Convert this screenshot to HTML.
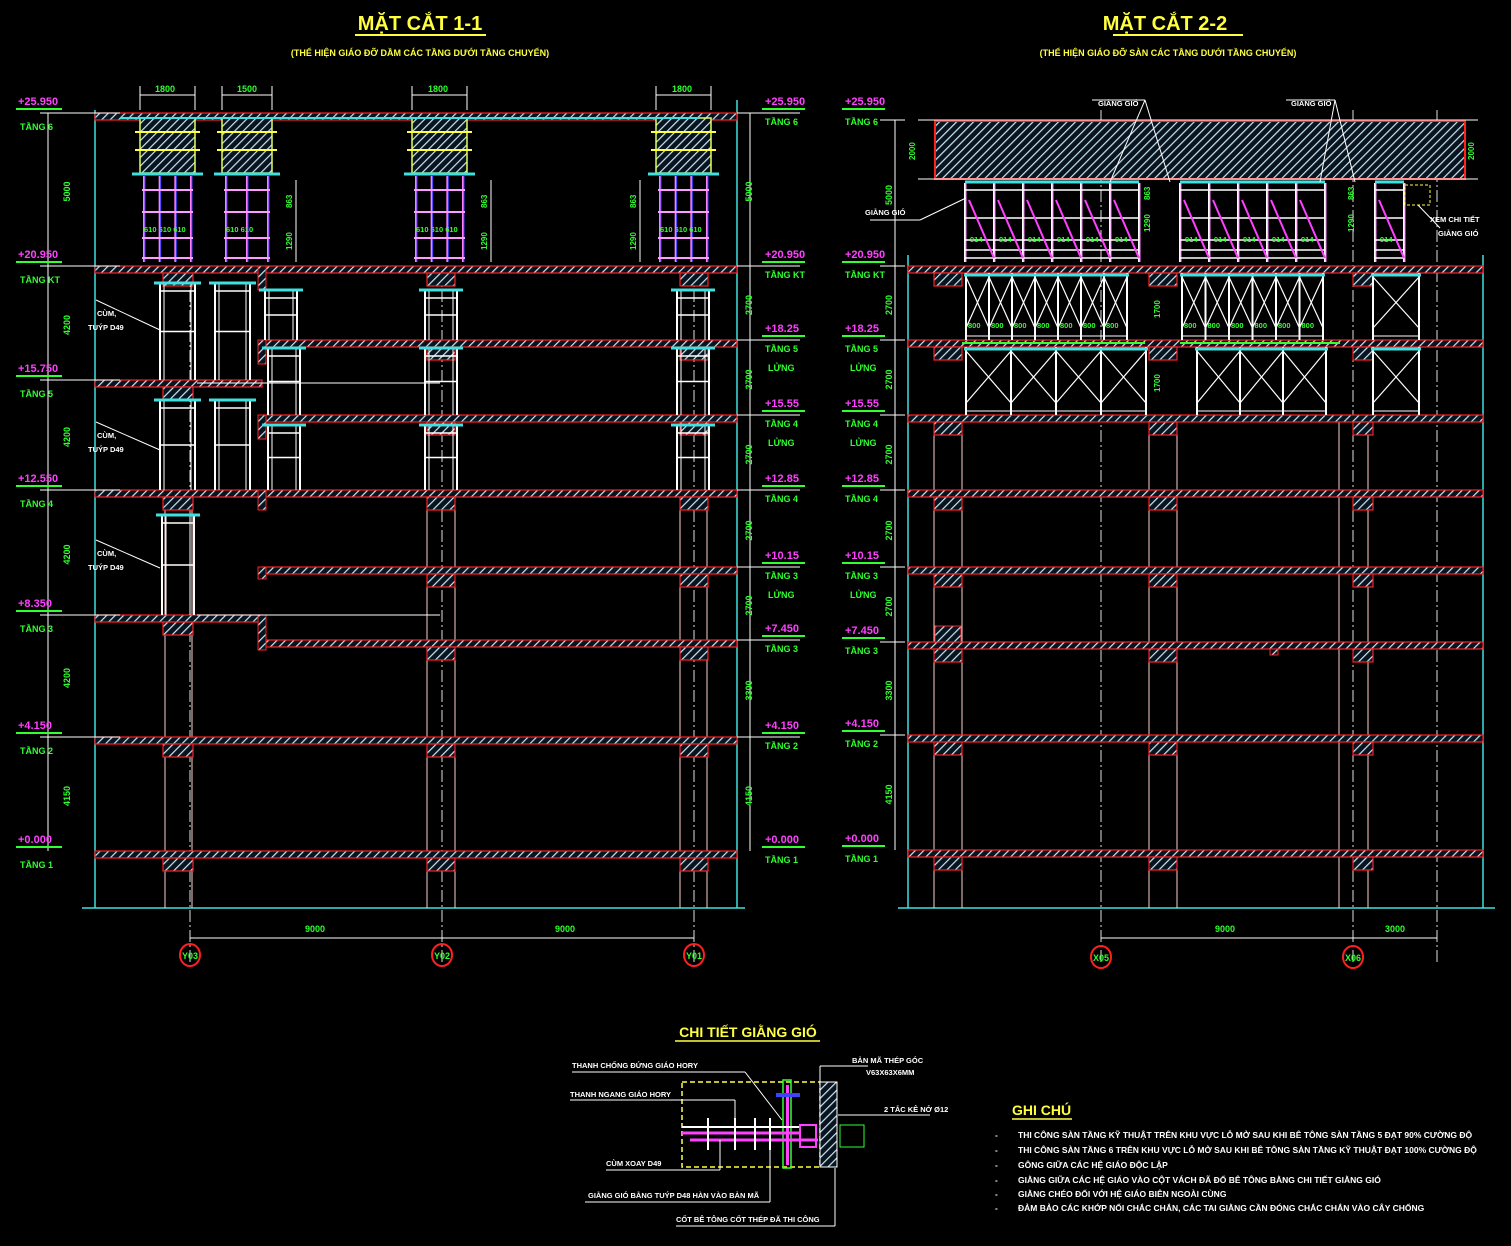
<!DOCTYPE html>
<html><head><meta charset="utf-8">
<style>
html,body{margin:0;padding:0;background:#000;}
svg{display:block}
text{font-family:"Liberation Sans","DejaVu Sans",sans-serif;}
</style></head>
<body>
<svg id="s" width="1511" height="1246" viewBox="0 0 1511 1246" xmlns="http://www.w3.org/2000/svg">
<defs>
<pattern id="h" width="6" height="6" patternUnits="userSpaceOnUse" patternTransform="rotate(45)">
<rect width="6" height="6" fill="#0a1420"/>
<line x1="0" y1="0" x2="0" y2="6" stroke="#c8e8f0" stroke-width="2.4"/>
</pattern>
</defs>
<rect width="1511" height="1246" fill="#000"/>
<g id="geo"></g>
<g id="txt" font-weight="bold">
<text x="420" y="30" fill="#ffff40" font-size="20" text-anchor="middle">MẶT CẮT 1-1</text>
<line x1="355" y1="35" x2="486" y2="35" stroke="#ffff40" stroke-width="2"/>
<text x="420" y="56" fill="#ffff40" font-size="9" text-anchor="middle">(THỂ HIỆN GIÁO ĐỠ DẦM CÁC TẦNG DƯỚI TẦNG CHUYỂN)</text>
<text x="1165" y="30" fill="#ffff40" font-size="20" text-anchor="middle">MẶT CẮT 2-2</text>
<line x1="1113" y1="35" x2="1243" y2="35" stroke="#ffff40" stroke-width="2"/>
<text x="1168" y="56" fill="#ffff40" font-size="9" text-anchor="middle">(THỂ HIỆN GIÁO ĐỠ SÀN CÁC TẦNG DƯỚI TẦNG CHUYỂN)</text>

<text x="748" y="1037" fill="#ffff40" font-size="14" text-anchor="middle">CHI TIẾT GIẰNG GIÓ</text>
<line x1="675" y1="1041" x2="820" y2="1041" stroke="#ffff40" stroke-width="1.5"/>
<text x="1012" y="1115" fill="#ffff40" font-size="14">GHI CHÚ</text>
<line x1="1012" y1="1119" x2="1072" y2="1119" stroke="#ffff40" stroke-width="1.5"/>
<g fill="#fff" font-size="8.5">
<text x="995" y="1138">-</text><text x="1018" y="1138">THI CÔNG SÀN TẦNG KỸ THUẬT TRÊN KHU VỰC LỖ MỞ SAU KHI BÊ TÔNG SÀN TẦNG 5 ĐẠT 90% CƯỜNG ĐỘ</text>
<text x="995" y="1153">-</text><text x="1018" y="1153">THI CÔNG SÀN TẦNG 6 TRÊN KHU VỰC LỖ MỞ SAU KHI BÊ TÔNG SÀN TẦNG KỸ THUẬT ĐẠT 100% CƯỜNG ĐỘ</text>
<text x="995" y="1168">-</text><text x="1018" y="1168">GÔNG GIỮA CÁC HỆ GIÁO ĐỘC LẬP</text>
<text x="995" y="1183">-</text><text x="1018" y="1183">GIẰNG GIỮA CÁC HỆ GIÁO VÀO CỘT VÁCH ĐÃ ĐỔ BÊ TÔNG BẰNG CHI TIẾT GIẰNG GIÓ</text>
<text x="995" y="1197">-</text><text x="1018" y="1197">GIẰNG CHÉO ĐỐI VỚI HỆ GIÁO BIÊN NGOÀI CÙNG</text>
<text x="995" y="1211">-</text><text x="1018" y="1211">ĐẢM BẢO CÁC KHỚP NỐI CHẮC CHẮN, CÁC TAI GIẰNG CẦN ĐÓNG CHẮC CHẮN VÀO CÂY CHỐNG</text>
</g>
<g fill="#fff" font-size="7.5">
<text x="572" y="1068">THANH CHỐNG ĐỨNG GIÁO HORY</text>
<text x="570" y="1097">THANH NGANG GIÁO HORY</text>
<text x="606" y="1166">CÙM XOAY D49</text>
<text x="588" y="1198">GIẰNG GIÓ BẰNG TUÝP D48 HÀN VÀO BẢN MÃ</text>
<text x="676" y="1222">CỐT BÊ TÔNG CỐT THÉP ĐÃ THI CÔNG</text>
<text x="852" y="1063">BẢN MÃ THÉP GÓC</text>
<text x="866" y="1075">V63X63X6MM</text>
<text x="884" y="1112">2 TẮC KÊ NỞ Ø12</text>
<text x="1430" y="222">XEM CHI TIẾT</text>
<text x="1438" y="236">GIẰNG GIÓ</text>
<text x="1098" y="106">GIẰNG GIÓ</text>
<text x="1291" y="106">GIẰNG GIÓ</text>
<text x="865" y="215">GIẰNG GIÓ</text>
<text x="97" y="316">CÙM,</text><text x="88" y="330">TUÝP D49</text>
<text x="97" y="438">CÙM,</text><text x="88" y="452">TUÝP D49</text>
<text x="97" y="556">CÙM,</text><text x="88" y="570">TUÝP D49</text>
</g>
<g fill="#30ff30" font-size="9">
<text x="155" y="92">1800</text><text x="237" y="92">1500</text><text x="428" y="92">1800</text><text x="672" y="92">1800</text>
<text x="305" y="932">9000</text><text x="555" y="932">9000</text>
<text x="1215" y="932">9000</text><text x="1385" y="932">3000</text>
</g>
</g>
</svg>
<script>
(function(){
var NS="http://www.w3.org/2000/svg";
var G=document.getElementById('geo'),T=document.getElementById('txt');
function el(n,a,p){var e=document.createElementNS(NS,n);for(var k in a)e.setAttribute(k,a[k]);(p||G).appendChild(e);return e;}
function L(x1,y1,x2,y2,c,w,d){var a={x1:x1,y1:y1,x2:x2,y2:y2,stroke:c,'stroke-width':w||1};if(d)a['stroke-dasharray']=d;return el('line',a);}
function R(x,y,w,h,f,s,sw){return el('rect',{x:x,y:y,width:w,height:h,fill:f||'none',stroke:s||'none','stroke-width':sw||1});}
function tx(x,y,s,c,fs,rot,anchor){var a={x:x,y:y,fill:c,'font-size':fs||9};if(rot)a.transform='rotate(-90 '+x+' '+y+')';if(anchor)a['text-anchor']=anchor;var e=el('text',a,T);e.textContent=s;return e;}
function slab(x1,x2,y,beams){R(x1,y,x2-x1,7,'url(#h)','#ff2020',1.2);beams.forEach(function(b){R(b[0],y+7,b[1],b[2]||13,'url(#h)','#ff2020',1.2);});}

var LX=95,RX=737;
L(LX,110,LX,908,'#40e0e0',1.5);L(RX,100,RX,908,'#40e0e0',1.5);
L(82,908,745,908,'#40e0e0',1.5);
[165,192,427,455,680,707].forEach(function(x){L(x,505,x,908,'#ffd0d0',1);});
[190,442,694].forEach(function(x){L(x,270,x,970,'#e0e0e0',1,'12,3,2,3');});
slab(LX,RX,113,[]);
slab(LX,RX,266,[[163,30],[427,28],[680,28]]);
slab(262,RX,340,[[427,28],[680,28]]);
slab(LX,262,380,[[163,30]]);
slab(262,RX,415,[[427,28],[680,28]]);
slab(LX,RX,490,[[163,30],[427,28],[680,28]]);
slab(262,RX,567,[[427,28],[680,28]]);
slab(LX,262,615,[[163,30]]);
slab(262,RX,640,[[427,28],[680,28]]);
slab(LX,RX,737,[[163,30],[427,28],[680,28]]);
slab(LX,RX,851,[[163,30],[427,28],[680,28]]);
R(258,266,8,24,'url(#h)','#ff2020');R(258,340,8,24,'url(#h)','#ff2020');R(258,415,8,24,'url(#h)','#ff2020');R(258,490,8,20,'url(#h)','#ff2020');R(258,567,8,12,'url(#h)','#ff2020');R(258,615,8,35,'url(#h)','#ff2020');
[[140,55],[222,50],[412,55],[656,55]].forEach(function(b){
 R(b[0],118,b[1],55,'url(#h)','#e0ff60',1.5);
 L(b[0]-5,132,b[0]+b[1]+5,132,'#ffff40',2);L(b[0]-5,150,b[0]+b[1]+5,150,'#ffff40',2);
 L(b[0]-8,174,b[0]+b[1]+8,174,'#40e0e0',3);
 var n=b[1]>52?4:3;
 for(var i=0;i<n;i++){var x=b[0]+4+i*(b[1]-8)/(n-1);L(x,176,x,262,'#ff80ff',2);L(x+1,176,x+1,262,'#4040ff',1);}
 [190,212,238,258].forEach(function(y){L(b[0]+2,y,b[0]+b[1]-2,y,'#ff9dff',2);});
 L(b[0],86,b[0],110,'#fff',1);L(b[0]+b[1],86,b[0]+b[1],110,'#fff',1);L(b[0],95,b[0]+b[1],95,'#fff',1);
 tx(b[0]+4,232,b[1]>52?'610 610 610':'610 610','#30ff30',7.5);
});
L(120,118,700,118,'#40e0e0',2);
[[292,200,232],[487,200,232],[636,200,232]].forEach(function(d){tx(d[0],d[1]+8,'863','#30ff30',8,1);tx(d[0],d[2]+18,'1290','#30ff30',8,1);L(d[0]+4,180,d[0]+4,262,'#fff',1);});
function frame(x,w,y1,y2){L(x,y1,x,y2,'#fff',2);L(x+w,y1,x+w,y2,'#fff',2);L(x+4,y1,x+4,y2,'#fff',1);L(x+w-4,y1,x+w-4,y2,'#fff',1);
 L(x,y1+8,x+w,y1+8,'#fff',1.5);var m=(y1+y2)/2;L(x,m,x+w,m,'#fff',1.5);L(x-6,y1,x+w+6,y1,'#40e0e0',3);}
[[160,35,283,380],[215,35,283,380],[265,32,290,340],[425,32,290,340],[677,32,290,340],
 [160,35,400,490],[215,35,400,490],[268,32,348,415],[425,32,348,415],[677,32,348,415],
 [268,32,425,490],[425,32,425,490],[677,32,425,490],[162,32,515,615]].forEach(function(f){frame(f[0],f[1],f[2],f[3]);});
L(96,300,160,330,'#fff',1);L(96,422,160,450,'#fff',1);L(96,540,160,568,'#fff',1);
L(197,383,440,383,'#fff',1);L(197,615,440,615,'#fff',1);
L(48,113,48,851,'#fff',1);
[[113,266,'5000'],[266,380,'4200'],[380,490,'4200'],[490,615,'4200'],[615,737,'4200'],[737,851,'4150']].forEach(function(d){L(40,d[0],120,d[0],'#fff',1);tx(70,(d[0]+d[1])/2+12,d[2],'#30ff30',9,1);});
[[113,'+25.950','TẦNG 6'],[266,'+20.950','TẦNG KT'],[380,'+15.750','TẦNG 5'],[490,'+12.550','TẦNG 4'],[615,'+8.350','TẦNG 3'],[737,'+4.150','TẦNG 2'],[851,'+0.000','TẦNG 1']].forEach(function(e){
 tx(18,e[0]-8,e[1],'#ff40ff',11);L(16,e[0]-4,62,e[0]-4,'#30ff30',2);tx(20,e[0]+17,e[2],'#30ff30',9);});
L(750,113,750,851,'#fff',1);
[[113,266,'5000'],[266,340,'2700'],[340,415,'2700'],[415,490,'2700'],[490,567,'2700'],[567,640,'2700'],[640,737,'3300'],[737,851,'4150']].forEach(function(d){L(737,d[0],800,d[0],'#fff',1);tx(752,(d[0]+d[1])/2+12,d[2],'#30ff30',9,1);});
[[113,'+25.950','TẦNG 6'],[266,'+20.950','TẦNG KT'],[340,'+18.25','TẦNG 5'],[415,'+15.55','TẦNG 4'],[490,'+12.85','TẦNG 4'],[567,'+10.15','TẦNG 3'],[640,'+7.450','TẦNG 3'],[737,'+4.150','TẦNG 2'],[851,'+0.000','TẦNG 1']].forEach(function(e){
 tx(765,e[0]-8,e[1],'#ff40ff',11);L(762,e[0]-4,805,e[0]-4,'#30ff30',2);tx(765,e[0]+12,e[2],'#30ff30',9);});
[[355],[430],[582]].forEach(function(e){tx(768,e[0]+16,'LỬNG','#30ff30',9);});
L(190,938,694,938,'#fff',1);
[[190,'Y03'],[442,'Y02'],[694,'Y01']].forEach(function(a){el('ellipse',{cx:a[0],cy:955,rx:10,ry:11,fill:'none',stroke:'#ff2020','stroke-width':2});tx(a[0],959,a[1],'#30ff30',9,0,'middle');});

var AX=908,BX=1483;
L(AX,255,AX,908,'#40e0e0',1.5);L(BX,255,BX,908,'#40e0e0',1.5);L(898,908,1495,908,'#40e0e0',1.5);
[934,962,1149,1177,1339,1368].forEach(function(x){L(x,420,x,908,'#ffd0d0',1);});
[1101,1353,1437].forEach(function(x){L(x,110,x,965,'#e0e0e0',1,'12,3,2,3');});
R(935,121,530,58,'url(#h)','#ff2020',2);
L(918,120,1478,120,'#fff',1);L(918,179,1478,179,'#fff',1);
var b2=[[934,28],[1149,28],[1353,20]];
[266,340,415,490,567,642,735,850].forEach(function(y){slab(AX,BX,y,b2);});
R(935,626,26,16,'url(#h)','#ff2020');R(1270,649,8,6,'url(#h)','#ff2020');
function topsc(x0,n){var w=29;for(var i=0;i<=n;i++){var x=x0+i*w;L(x,183,x,262,'#ffffff',2);L(x+1,183,x+1,262,'#ff80ff',1);}
 [190,218,240,250,258].forEach(function(y){L(x0,y,x0+n*w,y,'#fff',1.5);});
 for(var i=0;i<n;i++){L(x0+i*w+4,200,x0+i*w+w,258,'#ff40ff',2);tx(x0+i*w+5,242,'914','#30ff30',7.5);}
 L(x0,182,x0+n*w,182,'#40e0e0',3);}
topsc(965,6);topsc(1180,5);topsc(1375,1);
R(1405,185,25,20,'none','#ffff40',1).setAttribute('stroke-dasharray','3,2');
function xb(x0,n,w,y1,y2){for(var i=0;i<=n;i++)L(x0+i*w,y1,x0+i*w,y2,'#fff',2);for(var i=0;i<n;i++){L(x0+i*w,y1+4,x0+i*w+w,y2-12,'#fff',1.2);L(x0+i*w+w,y1+4,x0+i*w,y2-12,'#fff',1.2);}
 L(x0-2,y1+2,x0+n*w+2,y1+2,'#40e0e0',3);L(x0,y2-4,x0+n*w,y2-4,'#fff',1);}
xb(966,7,23,273,340);xb(1182,6,23.5,273,340);xb(1373,1,46,273,340);
for(var i=0;i<7;i++)tx(968+i*23,328,'800','#30ff30',7.5);for(var i=0;i<6;i++)tx(1184+i*23.5,328,'800','#30ff30',7.5);
xb(966,4,45,347,415);xb(1197,3,43,347,415);xb(1373,1,46,347,415);
L(962,343,1145,343,'#30ff30',2);L(1180,343,1340,343,'#30ff30',2);
tx(1150,232,'1290','#30ff30',8,1);tx(1150,200,'863','#30ff30',8,1);tx(1354,232,'1290','#30ff30',8,1);tx(1354,200,'863','#30ff30',8,1);
tx(1160,318,'1700','#30ff30',8,1);tx(1160,392,'1700','#30ff30',8,1);
tx(915,160,'2000','#30ff30',8,1);tx(1474,160,'2000','#30ff30',8,1);
L(1092,100,1145,100,'#fff',1);L(1145,100,1170,182,'#fff',1);L(1145,100,1110,182,'#fff',1);
L(1286,100,1335,100,'#fff',1);L(1335,100,1355,182,'#fff',1);L(1335,100,1320,182,'#fff',1);
L(870,220,920,220,'#fff',1);L(920,220,966,198,'#fff',1);L(1418,205,1440,228,'#fff',1);
L(895,120,895,850,'#fff',1);
[[120,266,'5000'],[266,340,'2700'],[340,415,'2700'],[415,490,'2700'],[490,567,'2700'],[567,642,'2700'],[642,735,'3300'],[735,850,'4150']].forEach(function(d){L(880,d[0],905,d[0],'#fff',1);tx(892,(d[0]+d[1])/2+12,d[2],'#30ff30',9,1);});
[[113,'+25.950','TẦNG 6'],[266,'+20.950','TẦNG KT'],[340,'+18.25','TẦNG 5'],[415,'+15.55','TẦNG 4'],[490,'+12.85','TẦNG 4'],[567,'+10.15','TẦNG 3'],[642,'+7.450','TẦNG 3'],[735,'+4.150','TẦNG 2'],[850,'+0.000','TẦNG 1']].forEach(function(e){
 tx(845,e[0]-8,e[1],'#ff40ff',11);L(842,e[0]-4,885,e[0]-4,'#30ff30',2);tx(845,e[0]+12,e[2],'#30ff30',9);});
[[355],[430],[582]].forEach(function(e){tx(850,e[0]+16,'LỬNG','#30ff30',9);});
L(1101,938,1437,938,'#fff',1);
[[1101,'X05'],[1353,'X06']].forEach(function(a){el('ellipse',{cx:a[0],cy:957,rx:10,ry:11,fill:'none',stroke:'#ff2020','stroke-width':2});tx(a[0],961,a[1],'#30ff30',9,0,'middle');});

var d=R(682,1082,138,85,'none','#ffff40',1.5);d.setAttribute('stroke-dasharray','5,3');
R(820,1082,17,85,'url(#h)','#fff',1);
R(783,1080,8,88,'none','#30ff30',1.5);R(786,1085,3,80,'#ff40ff');
R(776,1093,24,4,'#4040ff');
L(682,1127,800,1127,'#fff',2);L(682,1133,800,1133,'#ff40ff',3);L(690,1140,818,1140,'#ff40ff',3);
R(800,1125,16,22,'none','#ff40ff',2);R(840,1125,24,22,'none','#30ff30',1);
[708,735,755,770].forEach(function(x){L(x,1118,x,1150,'#fff',2);});
L(572,1072,745,1072,'#fff',1);L(745,1072,782,1120,'#fff',1);
L(570,1100,735,1100,'#fff',1);L(735,1100,735,1125,'#fff',1);
L(606,1170,720,1170,'#fff',1);L(720,1170,720,1140,'#fff',1);
L(585,1202,770,1202,'#fff',1);L(770,1202,770,1140,'#fff',1);
L(676,1226,835,1226,'#fff',1);L(835,1226,835,1168,'#fff',1);
L(820,1066,868,1066,'#fff',1);L(820,1066,820,1082,'#fff',1);
L(838,1115,930,1115,'#fff',1);
})();
</script>
</body></html>
